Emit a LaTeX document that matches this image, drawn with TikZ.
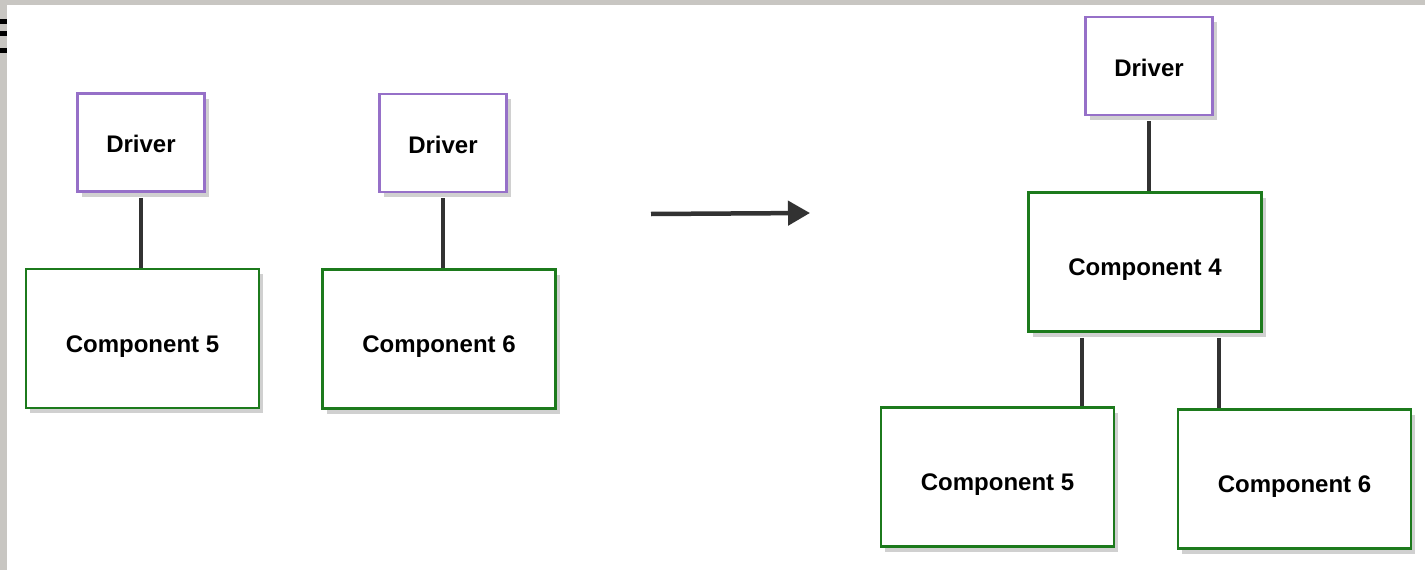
\documentclass[tikz,border=0pt]{standalone}
\usepackage{fontspec}
\setmainfont{Liberation Sans}
\usetikzlibrary{shadows,arrows.meta}
\definecolor{drvpurple}{RGB}{150,112,200}
\definecolor{cmpgreen}{RGB}{28,122,28}
\definecolor{linegrey}{RGB}{50,50,50}
\definecolor{bandgrey}{RGB}{200,198,194}
\tikzset{
  box/.style={draw, line width=2.8pt, fill=white, font=\fontsize{24}{28}\selectfont\bfseries,
    drop shadow={shadow xshift=4pt, shadow yshift=-5pt, opacity=0.3, fill=black!60}},
  drvbox/.style={box, draw=drvpurple, minimum width=127pt, minimum height=98pt, text height=20pt, text depth=0pt},
  cmpbox/.style={box, draw=cmpgreen, minimum width=233pt, minimum height=139pt, text height=27pt, text depth=0pt},
  link/.style={draw=linegrey, line width=4pt},
  bigarrow/.style={draw=linegrey, line width=4.5pt, -{Triangle[length=22pt,width=24pt]}}
}
\begin{document}
\begin{tikzpicture}[x=1pt,y=-1pt]
\useasboundingbox (0,0) rectangle (1425,570);
\fill[bandgrey] (0,0) rectangle (1425,570);
\fill[white] (7,5) rectangle (1425,570);
\fill[black] (0,19) rectangle (7,24);
\fill[black] (0,31) rectangle (7,36);
\fill[black] (0,48) rectangle (7,53);

% left group
\node[drvbox] (d1) at (141,142.5) {Driver};
\node[cmpbox] (c5l) at (142.5,338.5) {Component 5};
\node[drvbox] (d2) at (443,143) {Driver};
\node[cmpbox] (c6l) at (439,339) {Component 6};
\draw[link] ([yshift=-5pt]d1.south) -- (d1.south |- c5l.north);
\draw[link] ([yshift=-5pt]d2.south) -- (d2.south |- c6l.north);

% arrow
\coordinate (as) at (651,214);
\coordinate (ae) at (810,213);
\draw[bigarrow] (as) -- (ae);

% right group
\node[drvbox] (d3) at (1149,66) {Driver};
\node[cmpbox] (c4) at (1145,262) {Component 4};
\node[cmpbox] (c5r) at (997.5,477) {Component 5};
\node[cmpbox] (c6r) at (1294.5,479) {Component 6};
\draw[link] ([yshift=-5pt]d3.south) -- (d3.south |- c4.north);
\draw[link] ([xshift=-63pt,yshift=-5pt]c4.south) -- ([xshift=-63pt]c4.south |- c5r.north);
\draw[link] ([xshift=74pt,yshift=-5pt]c4.south) -- ([xshift=74pt]c4.south |- c6r.north);
\end{tikzpicture}
\end{document}
